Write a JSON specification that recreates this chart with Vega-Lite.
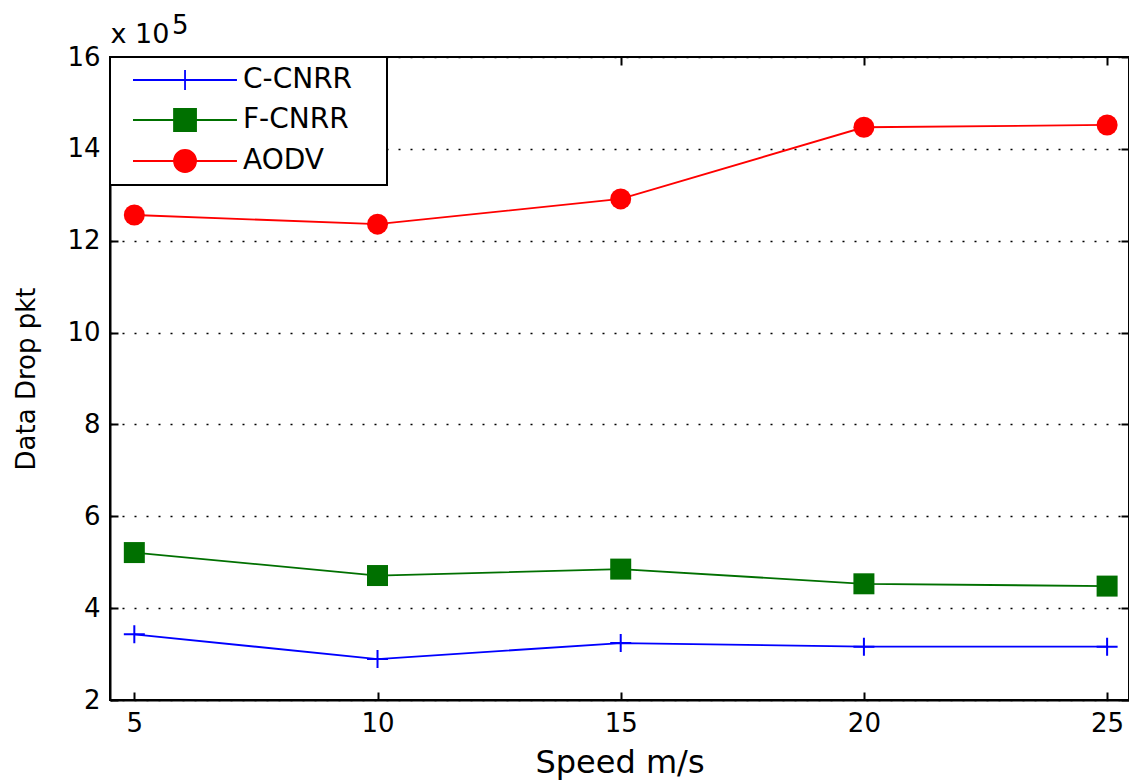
{
  "$schema": "https://vega.github.io/schema/vega-lite/v6.json",
  "width": 1019,
  "height": 643,
  "autosize": "none",
  "padding": {"left": 110, "top": 57, "right": 0, "bottom": 81},
  "background": "white",
  "title": {"text": "5", "anchor": "start", "frame": "group", "orient": "top", "offset": -19, "dx": 62, "font": "DejaVu Sans", "fontSize": 26, "fontWeight": "normal", "color": "black"},
  "config": {
    "view": {"stroke": "black", "strokeWidth": 2},
    "font": "DejaVu Sans",
    "axis": {"labelFont": "DejaVu Sans", "titleFont": "DejaVu Sans", "labelColor": "black", "titleColor": "black", "tickColor": "black", "domainColor": "black", "titleFontWeight": "normal"}
  },
  "data": {
    "values": [
      {"speed": 5, "protocol": "C-CNRR", "drop": 343000},
      {"speed": 10, "protocol": "C-CNRR", "drop": 289000},
      {"speed": 15, "protocol": "C-CNRR", "drop": 324000},
      {"speed": 20, "protocol": "C-CNRR", "drop": 316000},
      {"speed": 25, "protocol": "C-CNRR", "drop": 316000},
      {"speed": 5, "protocol": "F-CNRR", "drop": 521000},
      {"speed": 10, "protocol": "F-CNRR", "drop": 471000},
      {"speed": 15, "protocol": "F-CNRR", "drop": 485000},
      {"speed": 20, "protocol": "F-CNRR", "drop": 453000},
      {"speed": 25, "protocol": "F-CNRR", "drop": 448000},
      {"speed": 5, "protocol": "AODV", "drop": 1256000},
      {"speed": 10, "protocol": "AODV", "drop": 1236000},
      {"speed": 15, "protocol": "AODV", "drop": 1291000},
      {"speed": 20, "protocol": "AODV", "drop": 1447000},
      {"speed": 25, "protocol": "AODV", "drop": 1452000}
    ]
  },
  "resolve": {"axis": {"x": "independent", "y": "independent"}},
  "layer": [
    {
      "mark": {"type": "line", "strokeWidth": 1.8},
      "encoding": {
        "x": {"field": "speed", "type": "quantitative", "scale": {"domain": [4.5, 25.45], "nice": false, "zero": false},
          "axis": {"orient": "bottom", "values": [5, 10, 15, 20, 25], "tickSize": -8, "tickWidth": 2, "labelPadding": 18, "labelFontSize": 26, "domainWidth": 2, "grid": false, "title": "Speed m/s", "titleFontSize": 32, "titlePadding": 11}},
        "y": {"field": "drop", "type": "quantitative", "scale": {"domain": [200000, 1600000], "nice": false, "zero": false},
          "axis": {"orient": "left", "values": [200000, 400000, 600000, 800000, 1000000, 1200000, 1400000, 1600000], "labelExpr": "datum.value / 100000", "tickSize": -8, "tickWidth": 2, "labelPadding": 18, "labelFontSize": 26, "domainWidth": 2, "grid": true, "gridColor": "black", "gridDash": [2, 10], "gridWidth": 1.6, "gridOpacity": 1, "title": "Data Drop pkt", "titleFontSize": 26, "titlePadding": 27}},
        "color": {"field": "protocol", "type": "nominal", "scale": {"domain": ["C-CNRR", "F-CNRR", "AODV"], "range": ["#0000ff", "#007000", "#ff0000"]},
          "legend": {"orient": "top-left", "offset": 0, "title": null, "padding": 9, "strokeColor": "black", "fillColor": "white", "cornerRadius": 0,
            "labelFont": "DejaVu Sans", "labelFontSize": 28, "labelColor": "black", "labelOffset": 96, "rowPadding": 11, "symbolSize": 484, "symbolStrokeWidth": 1.8,
            "encode": {
              "legend": {"update": {"strokeWidth": {"value": 2}}},
              "symbols": {"update": {
              "shape": {"signal": "datum.value === 'C-CNRR' ? 'M0,0H9.45M4.73,-0.9V0.9M21.9,0' : datum.value === 'F-CNRR' ? 'M0,0H9.45M3.73,-1H5.73V1H3.73ZM21.9,0' : 'M0,0H9.45M3.73,0A1,1 0 1,0 5.73,0A1,1 0 1,0 3.73,0ZM21.9,0'"},
              "fill": {"signal": "datum.value === 'C-CNRR' ? 'transparent' : datum.value === 'F-CNRR' ? '#007000' : '#ff0000'"},
              "opacity": {"value": 1}
            }}}}
        }
      }
    },
    {
      "transform": [{"filter": "datum.protocol === 'C-CNRR'"}],
      "mark": {"type": "point", "shape": "M-1.05,0H1.05M0,-0.9V0.9", "size": 400, "filled": false, "stroke": "#0000ff", "strokeWidth": 2, "opacity": 1},
      "encoding": {
        "x": {"field": "speed", "type": "quantitative", "axis": null},
        "y": {"field": "drop", "type": "quantitative", "axis": null}
      }
    },
    {
      "transform": [{"filter": "datum.protocol === 'F-CNRR'"}],
      "mark": {"type": "point", "shape": "square", "size": 441, "filled": true, "color": "#007000", "opacity": 1},
      "encoding": {
        "x": {"field": "speed", "type": "quantitative", "axis": null},
        "y": {"field": "drop", "type": "quantitative", "axis": null}
      }
    },
    {
      "transform": [{"filter": "datum.protocol === 'AODV'"}],
      "mark": {"type": "point", "shape": "circle", "size": 441, "filled": true, "color": "#ff0000", "opacity": 1},
      "encoding": {
        "x": {"field": "speed", "type": "quantitative", "axis": null},
        "y": {"field": "drop", "type": "quantitative", "axis": null}
      }
    },
    {
      "mark": {"type": "point", "opacity": 0},
      "encoding": {
        "x": {"field": "speed", "type": "quantitative", "axis": {"orient": "top", "values": [5, 10, 15, 20, 25], "tickSize": -8, "tickWidth": 2, "labels": false, "domain": false, "grid": false, "title": "x 10", "titleFontSize": 27, "titleAnchor": "start", "titleAlign": "left", "titleBaseline": "alphabetic", "titlePadding": 14}},
        "y": {"field": "drop", "type": "quantitative", "axis": {"orient": "right", "values": [200000, 400000, 600000, 800000, 1000000, 1200000, 1400000, 1600000], "tickSize": -8, "tickWidth": 2, "labels": false, "domain": false, "grid": false, "title": null}}
      }
    }
  ]
}
